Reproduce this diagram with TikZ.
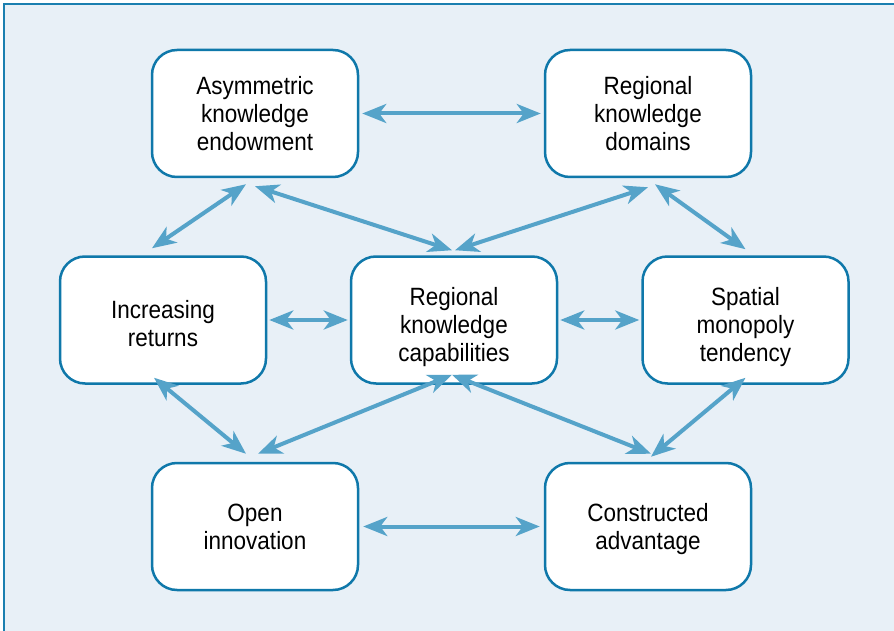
\documentclass[tikz,border=0pt]{standalone}
\usepackage{fontspec}
\setmainfont[FakeStretch=0.9]{Liberation Sans}
\usetikzlibrary{arrows.meta}
\definecolor{frameblue}{HTML}{1A7FB0}
\definecolor{boxblue}{HTML}{0F78AA}
\definecolor{arrowblue}{HTML}{55A3C9}
\definecolor{bgblue}{HTML}{E8F0F7}
\newcommand\boxtext[2]{\raisebox{#1}[\height][\depth]{\begin{tabular}{@{}c@{}}#2\end{tabular}}}
\tikzset{
  box/.style={draw=boxblue, line width=2.5pt, fill=white, rounded corners=25pt,
    minimum width=206pt, minimum height=127pt, align=center, inner sep=0pt,
    font=\fontsize{25pt}{28pt}\selectfont},
  conn/.style={draw=arrowblue, line width=4pt,
    {Stealth[length=24pt,width=19pt,inset=7pt]}-{Stealth[length=24pt,width=19pt,inset=7pt]}}
}
\begin{document}
\begin{tikzpicture}[x=1pt,y=-1pt]
\useasboundingbox (0,0) rectangle (894,631);
\fill[bgblue] (4,4) rectangle (894,631);
\draw[frameblue, line width=2.5pt] (4,631) -- (4,4) -- (894,4);
\node[box] (ake) at (255,113.5) {Asymmetric\\knowledge\\endowment};
\node[box] (rkd) at (648,113.5) {Regional\\knowledge\\domains};
\node[box] (inc) at (163,320) {\boxtext{-7pt}{Increasing\\returns}};
\node[box] (rkc) at (454,320) {\boxtext{-8pt}{Regional\\knowledge\\capabilities}};
\node[box] (spm) at (745.5,320) {\boxtext{-8pt}{Spatial\\monopoly\\tendency}};
\node[box] (opi) at (255,526.5) {Open\\innovation};
\node[box] (coa) at (648,526.5) {\boxtext{-3pt}{Constructed\\advantage}};
% connectors
\draw[conn] ([xshift=3pt]ake.east) -- ([xshift=-3pt]rkd.west);
\draw[conn] ([xshift=-9pt,yshift=-6pt]ake.south) -- ([xshift=-11pt,yshift=7pt]inc.north);
\draw[conn] ([xshift=0pt,yshift=-8pt]ake.south) -- ([xshift=-2pt,yshift=5pt]rkc.north);
\draw[conn] ([xshift=0pt,yshift=-9pt]rkd.south) -- ([xshift=1pt,yshift=5pt]rkc.north);
\draw[conn] ([xshift=7pt,yshift=-6pt]rkd.south) -- ([xshift=0pt,yshift=6pt]spm.north);
\draw[conn] ([xshift=2pt]inc.east) -- ([xshift=-2pt]rkc.west);
\draw[conn] ([xshift=2pt]rkc.east) -- ([xshift=-2pt]spm.west);
\draw[conn] ([xshift=-9pt,yshift=7pt]inc.south) -- ([xshift=-9pt,yshift=8pt]opi.north);
\draw[conn] ([xshift=-2pt,yshift=10pt]rkc.south) -- ([xshift=3pt,yshift=8pt]opi.north);
\draw[conn] ([xshift=-2pt,yshift=10pt]rkc.south) -- ([xshift=3pt,yshift=8pt]coa.north);
\draw[conn] ([xshift=0pt,yshift=7pt]spm.south) -- ([xshift=3pt,yshift=5pt]coa.north);
\draw[conn] ([xshift=4pt]opi.east) -- ([xshift=-4pt]coa.west);
\end{tikzpicture}
\end{document}
